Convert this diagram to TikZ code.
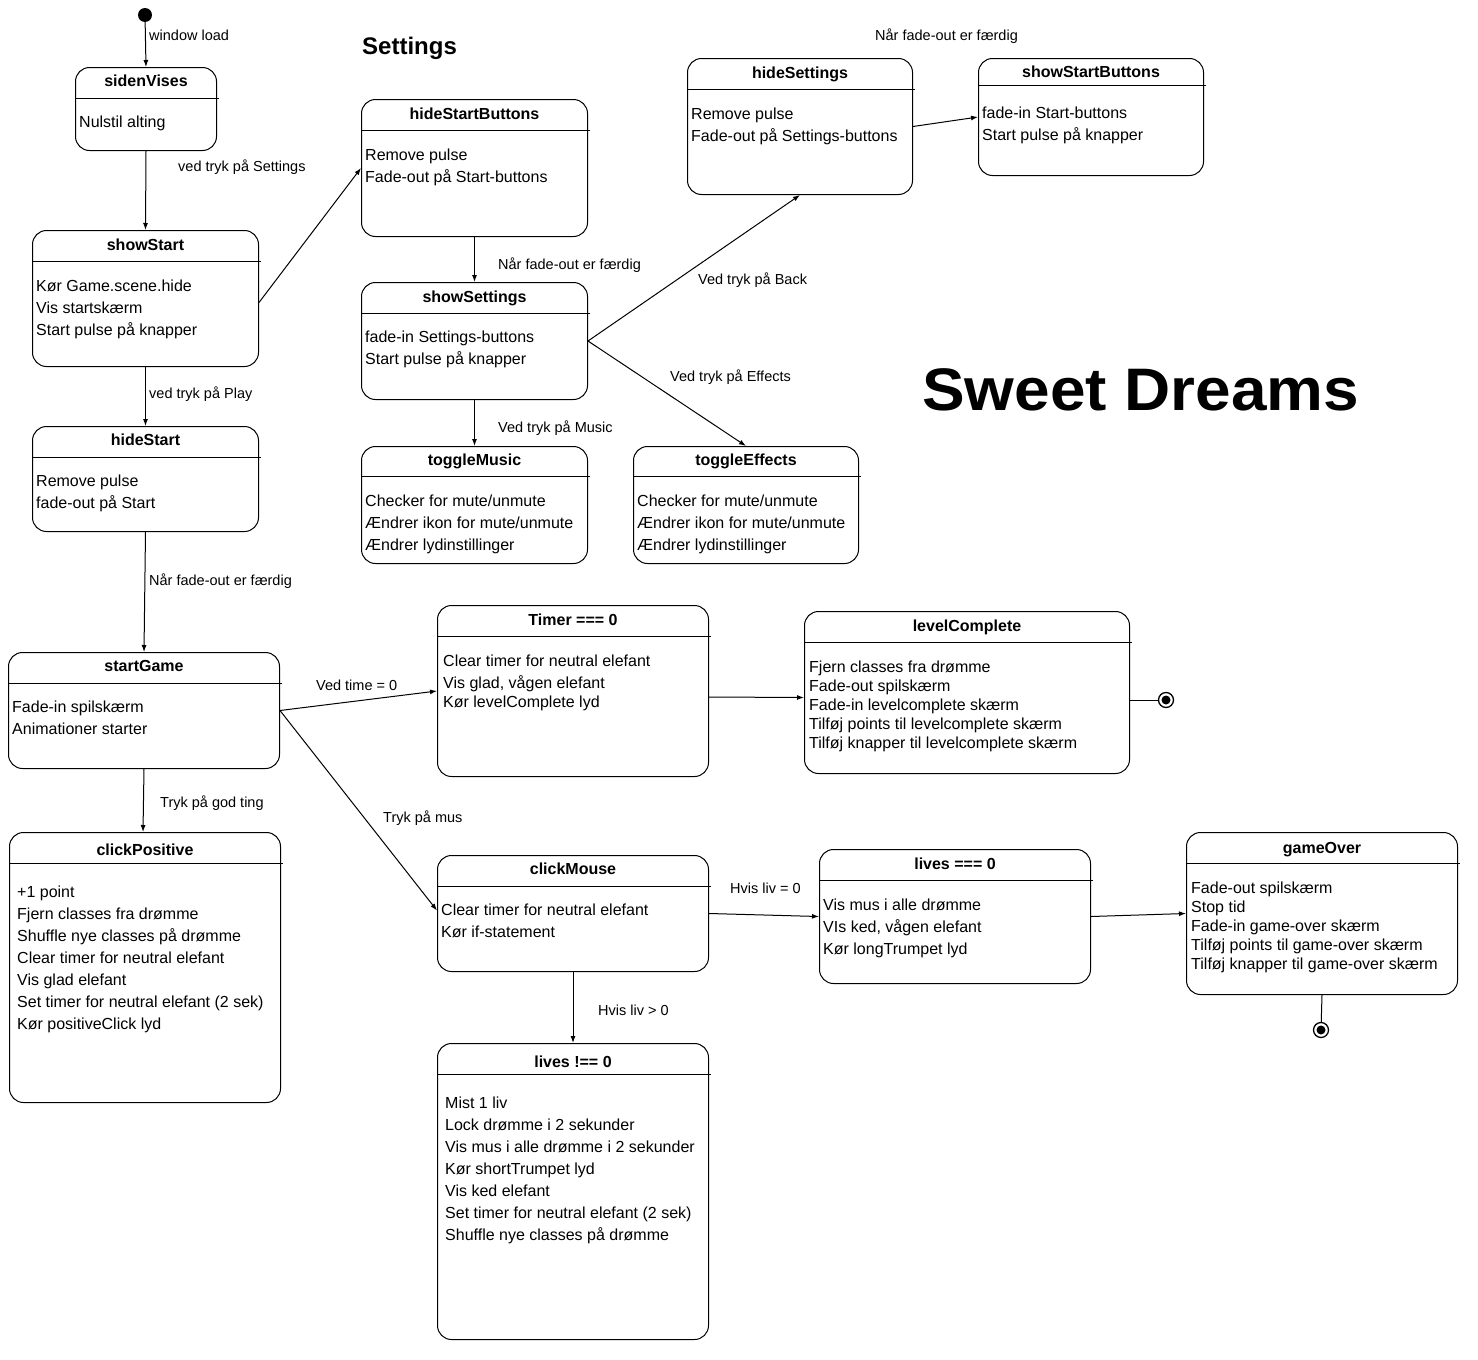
\documentclass[tikz,border=0pt]{standalone}
\usepackage{fontspec}
\setmainfont{Liberation Sans}
\usetikzlibrary{arrows.meta}

\tikzset{
  statebox/.style={draw, line width=1pt, rounded corners=14pt, inner sep=0pt, anchor=north west},
  ttl/.style={font=\fontsize{16}{19}\selectfont\bfseries, anchor=base, inner sep=0pt},
  bodytxt/.style={font=\fontsize{16}{22}\selectfont, anchor=north west, align=left, inner sep=0pt},
  bodytight/.style={bodytxt, font=\fontsize{16}{19}\selectfont},
  lbl/.style={font=\fontsize{14.5}{17}\selectfont, anchor=base west, inner sep=0pt},
  conn/.style={line width=1pt, -{Latex[length=7pt,width=5pt]}},
  plain/.style={line width=1pt},
  divider/.style={line width=1pt},
  startdot/.style={circle, fill=black, minimum size=14pt, inner sep=0pt},
  endring/.style={circle, draw, line width=1.3pt, fill=white, minimum size=15pt, inner sep=0pt},
  enddot/.style={circle, fill=black, minimum size=9pt, inner sep=0pt},
}

% name, x1, y1, x2, y2, divider offset, title baseline offset, title
\newcommand\mystate[8]{%
  \node[statebox, minimum width={#4-#2}, minimum height={#5-#3}] (#1) at (#2,#3) {};
  \draw[divider] ([yshift=-#6pt]#1.north west) -- ([yshift=-#6pt,xshift=2pt]#1.north east);
  \node[ttl] (#1-title) at ([yshift=-#7pt]#1.north) {#8};
}

\begin{document}
\begin{tikzpicture}[x=1pt,y=-1pt]
\useasboundingbox (0,0) rectangle (1478,1360);

% states
\mystate{sv}{75}{67}{216}{150}{31}{19}{sidenVises}
\node[bodytxt] (sv-b) at (79,116) {Nulstil alting};

\mystate{ss}{32}{230}{258}{366}{31}{20}{showStart}
\node[bodytxt] (ss-b) at (36,280) {Kør Game.scene.hide\\Vis startskærm\\Start pulse på knapper};

\mystate{hs}{32}{426}{258}{531}{31}{19}{hideStart}
\node[bodytxt] (hs-b) at (36,475) {Remove pulse\\fade-out på Start};

\mystate{sg}{8}{652}{279}{768}{31}{19}{startGame}
\node[bodytxt] (sg-b) at (12,701) {Fade-in spilskærm\\Animationer starter};

\mystate{cp}{9}{832}{280}{1102}{31}{23}{clickPositive}
\node[bodytxt] (cp-b) at (17,886) {+1 point\\Fjern classes fra drømme\\Shuffle nye classes på drømme\\Clear timer for neutral elefant\\Vis glad elefant\\Set timer for neutral elefant (2 sek)\\Kør positiveClick lyd};

\mystate{hsb}{361}{99}{587}{236}{31}{20}{hideStartButtons}
\node[bodytxt] (hsb-b) at (365,149) {Remove pulse\\Fade-out på Start-buttons};

\mystate{sset}{361}{282}{587}{399}{31}{20}{showSettings}
\node[bodytxt] (sset-b) at (365,331) {fade-in Settings-buttons\\Start pulse på knapper};

\mystate{tm}{361}{446}{587}{563}{30}{19}{toggleMusic}
\node[bodytxt] (tm-b) at (365,495) {Checker for mute/unmute\\Ændrer ikon for mute/unmute\\Ændrer lydinstillinger};

\mystate{te}{633}{446}{858}{563}{30}{19}{toggleEffects}
\node[bodytxt] (te-b) at (637,495) {Checker for mute/unmute\\Ændrer ikon for mute/unmute\\Ændrer lydinstillinger};

\mystate{hset}{687}{58}{912}{194}{31}{20}{hideSettings}
\node[bodytxt] (hset-b) at (691,108) {Remove pulse\\Fade-out på Settings-buttons};

\mystate{ssb}{978}{58}{1203}{175}{27}{19}{showStartButtons}
\node[bodytxt] (ssb-b) at (982,107) {fade-in Start-buttons\\Start pulse på knapper};

\mystate{tz}{437}{605}{708}{776}{31}{20}{Timer === 0}
\node[bodytxt] (tz-b) at (443,655) {Clear timer for neutral elefant\\Vis glad, vågen elefant\\[-3pt]Kør levelComplete lyd};

\mystate{lc}{804}{611}{1129}{773}{31}{20}{levelComplete}
\node[bodytight] (lc-b) at (809,661) {Fjern classes fra drømme\\Fade-out spilskærm\\Fade-in levelcomplete skærm\\Tilføj points til levelcomplete skærm\\Tilføj knapper til levelcomplete skærm};

\mystate{cm}{437}{855}{708}{971}{31}{19}{clickMouse}
\node[bodytxt] (cm-b) at (441,904) {Clear timer for neutral elefant\\Kør if-statement};

\mystate{lz}{819}{849}{1090}{983}{31}{20}{lives === 0}
\node[bodytxt] (lz-b) at (823,899) {Vis mus i alle drømme\\VIs ked, vågen elefant\\Kør longTrumpet lyd};

\mystate{go}{1186}{832}{1457}{994}{31}{21}{gameOver}
\node[bodytight] (go-b) at (1191,882) {Fade-out spilskærm\\Stop tid\\Fade-in game-over skærm\\Tilføj points til game-over skærm\\Tilføj knapper til game-over skærm};

\mystate{ln}{437}{1043}{708}{1339}{31}{24}{lives !== 0}
\node[bodytxt] (ln-b) at (445,1097) {Mist 1 liv\\Lock drømme i 2 sekunder\\Vis mus i alle drømme i 2 sekunder\\Kør shortTrumpet lyd\\Vis ked elefant\\Set timer for neutral elefant (2 sek)\\Shuffle nye classes på drømme};

% initial and final states
\node[startdot] (init) at (145,15) {};
\node[endring] (fin1) at (1166,700) {};
\node[enddot] (fin1d) at (fin1) {};
\node[endring] (fin2) at (1321,1030) {};
\node[enddot] (fin2d) at (fin2) {};

% titles
\node[font=\fontsize{24}{28}\selectfont\bfseries, anchor=base west, inner sep=0pt] (settings) at (362,54) {Settings};
\node[font=\fontsize{60}{70}\selectfont\bfseries, anchor=base west, inner sep=0pt] (sweet) at (922,410) {\scalebox{1.065}[1]{Sweet Dreams}};

% transitions
\draw[conn] (init) -- (sv.north);
\node[lbl] at (149,40) {window load};

\draw[conn] (sv.south) -- (ss.north);
\node[lbl] at (178,171) {ved tryk på Settings};

\draw[conn] ([yshift=-4pt]ss.east) -- (hsb.west);

\draw[conn] (ss.south) -- (hs.north);
\node[lbl] at (149,398) {ved tryk på Play};

\draw[conn] (hs.south) -- (sg.north);
\node[lbl] at (149,585) {Når fade-out er færdig};

\draw[conn] (sg.south) -- ([xshift=-2pt]cp.north);
\node[lbl] at (160,807) {Tryk på god ting};

\draw[conn] (hsb.south) -- (sset.north);
\node[lbl] at (498,269) {Når fade-out er færdig};

\draw[conn] (sset.south) -- (tm.north);
\node[lbl] at (498,432) {Ved tryk på Music};

\draw[conn] (sset.east) -- (hset.south);
\node[lbl] at (698,284) {Ved tryk på Back};

\draw[conn] (sset.east) -- (te.north);
\node[lbl] at (670,381) {Ved tryk på Effects};

\draw[conn] (hset.east) -- (ssb.west);
\node[lbl] at (875,40) {Når fade-out er færdig};

\draw[conn] (sg.east) -- (tz.west);
\node[lbl] at (316,690) {Ved time = 0};

\draw[conn] (sg.east) -- ([yshift=3pt]cm.west);
\node[lbl] at (383,822) {Tryk på mus};

\draw[conn] ([yshift=-6pt]tz.east) -- ([yshift=-5pt]lc.west);
\draw[plain] (lc.east |- fin1) -- (fin1);

\draw[conn] (cm.east) -- (lz.west);
\node[lbl] at (730,893) {Hvis liv = 0};

\draw[conn] (cm.south) -- (ln.north);
\node[lbl] at (598,1015) {Hvis liv > 0};

\draw[conn] (lz.east) -- (go.west);
\draw[plain] (go.south) -- (fin2);
\end{tikzpicture}
\end{document}
